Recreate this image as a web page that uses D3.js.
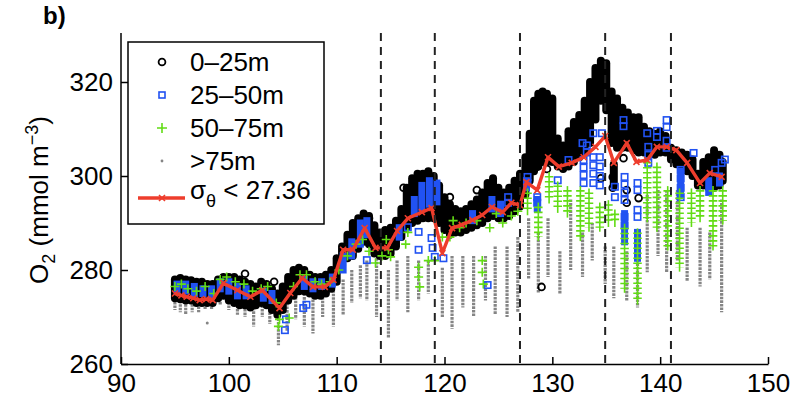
<!DOCTYPE html>
<html>
<head>
<meta charset="utf-8">
<script src="https://cdn.jsdelivr.net/npm/d3@7"></script>
<style>
  body { margin: 0; background: #fff; }
  svg { display: block; font-family: "Liberation Sans", Arial, sans-serif; }
</style>
</head>
<body>
<svg id="chart" width="800" height="399"></svg>
<script>
// axis ticks and section boundaries
const xTicks = [90, 100, 110, 120, 130, 140, 150];
const yTicks = [260, 280, 300, 320];
const dashedX = [114.1, 119.1, 127.0, 134.9, 141.0];
const seriesNames = ["0–25m", "25–50m", "50–75m", ">75m"];

// 0-25m : profiles as [x, top, bottom] plus single circles
const blackCols = [
  [95.0,278.0,274.0],[95.5,278.3,273.8],[96.0,278.0,273.5],[96.5,277.8,273.5],[97.0,277.5,273.0],
  [97.5,277.5,273.0],[98.0,277.0,273.0],[98.5,277.0,273.0],[99.0,278.0,274.0],[99.5,278.5,274.5],
  [100.0,278.5,273.5],[100.5,278.5,273.0],[101.0,278.0,272.5],[101.5,277.5,272.5],[102.0,277.0,272.0],
  [102.5,276.5,272.5],[103.0,277.5,273.0],[103.5,277.0,272.5],[104.0,276.0,271.5],[104.5,275.0,270.5],
  [105.0,276.5,271.5],[105.5,278.5,273.5],[106.0,280.0,274.5],[106.5,280.5,275.5],[107.0,280.0,275.5],
  [107.5,279.0,275.0],[108.0,278.5,274.5],[108.5,278.5,274.5],[109.0,279.0,275.0],[109.5,280.0,276.0],
  [110.0,282.5,277.5],[110.5,285.0,281.0],[111.0,287.5,282.5],[111.5,290.0,283.0],[112.0,291.0,284.5],
  [112.5,292.0,286.0],[113.0,291.5,285.5],[113.5,289.5,283.5],[114.0,288.0,283.0],[114.5,288.5,283.0],
  [115.0,289.0,283.5],[115.5,290.5,285.0],[116.0,293.0,287.0],[116.5,297.5,289.0],[117.0,299.5,290.0],
  [117.5,300.5,290.5],[118.0,300.5,291.0],[118.5,301.0,291.0],[119.0,300.0,291.0],[119.5,298.0,290.0],
  [120.0,295.5,288.5],[120.5,294.0,287.5],[121.0,293.0,288.0],[121.5,292.5,288.0],[122.0,293.0,288.5],
  [122.5,294.0,289.0],[123.0,295.0,289.5],[123.5,296.5,290.0],[124.0,298.5,291.0],[124.5,299.5,291.5],
  [125.0,297.5,291.0],[125.5,296.5,291.0],[126.0,297.5,291.5],[126.5,299.0,292.5],[127.0,300.5,293.5],
  [127.5,304.0,296.0],[127.9,309.0,299.0],[128.3,316.0,301.0],[128.7,317.5,302.0],[129.1,318.0,303.0],
  [129.5,317.5,303.0],[130.0,316.5,303.0],[130.5,308.0,302.0],[131.0,306.5,301.5],[131.5,309.5,302.0],
  [132.0,311.5,303.0],[132.5,313.0,304.0],[133.0,316.0,305.0],[133.5,320.0,307.0],[134.0,323.0,312.0],
  [134.5,324.5,316.0],[135.0,324.0,314.0],[135.5,318.0,307.0],[136.0,316.5,306.0],[136.5,314.5,306.0],
  [137.0,313.5,306.0],[137.5,312.5,305.5],[138.0,312.5,305.0],[138.5,310.5,305.0],[139.0,309.5,304.5],
  [139.5,309.0,304.5],[140.0,309.5,305.0],[140.5,308.5,305.0],[141.0,306.0,303.5],[141.5,305.5,302.5],
  [142.0,305.0,302.0],[142.5,304.5,301.0],[143.0,303.5,300.0],[143.5,300.5,298.0],[144.0,303.0,298.0],
  [144.5,304.0,297.5],[145.0,305.5,297.5],[145.5,304.5,298.0],[145.8,303.0,299.0],[135.7,302.5,298.0]
];
const blackPts = [
  [129.0,276.4],[135.6,299.8],[135.6,297.5],[136.6,303.8],[136.9,297.0],[136.9,294.3],[138.0,295.3],
  [128.4,304.5],[128.6,302.0],[129.5,301.5],[101.5,279.2],[104.2,277.5],[120.5,295.5],[123.0,297.0],
  [116.2,297.5],[113.0,291.0],[134.5,299.5]
];

// 25-50m
const blueCols = [
  [95.2,277.0,275.5],[96.0,277.0,275.5],[96.8,276.5,275.0],[97.6,276.0,275.0],[98.4,276.0,274.5],
  [99.2,277.5,276.0],[100.0,277.5,275.5],[100.8,276.5,274.5],[101.6,276.0,274.5],[103.2,275.5,274.0],
  [104.0,275.0,273.5],[107.0,278.0,276.5],[107.8,277.5,276.0],[108.6,277.5,276.5],[109.6,278.5,277.0],
  [110.6,283.0,280.0],[111.4,286.0,283.0],[112.2,290.0,285.5],[112.8,290.5,287.5],[115.8,289.0,287.0],
  [117.2,295.0,292.0],[117.9,298.0,293.0],[118.6,299.0,294.0],[119.3,298.5,294.5],
  [122.6,292.0,290.5],[124.4,295.0,293.0],[125.2,294.0,292.0],[127.6,299.0,297.5],[128.6,295.0,293.0],
  [136.7,292.0,286.0],[137.9,288.0,282.5],[141.9,301.0,296.0],
  [144.5,299.0,296.5],[145.5,300.0,298.5]
];
const bluePts = [
  [105.2,267.2],[105.3,269.5],[106.9,271.9],[107.2,272.6],[116.6,289.1],[117.6,288.1],[117.6,284.3],
  [118.8,286.8],[118.9,284.7],[119.1,282.8],[119.9,282.5],[124.0,276.8],[125.9,295.5],[125.9,294.3],
  [112.8,282.1],[127.7,299.8],[127.7,298.5],[128.6,295.5],[128.6,294.3],[130.5,299.1],[131.5,303.4],
  [132.8,307.0],[132.9,303.4],[132.9,301.8],[132.9,300.2],[132.9,298.5],[133.8,309.1],[133.8,304.0],
  [133.8,302.3],[133.8,300.5],[133.8,298.5],[134.4,304.0],[134.4,302.0],[134.4,300.0],[134.4,298.0],
  [134.6,309.1],[135.8,297.7],[135.8,295.5],[136.6,311.9],[136.6,310.6],[136.7,299.8],[136.7,298.2],
  [136.7,296.5],[136.7,294.9],[136.7,291.3],[136.7,289.5],[137.9,298.5],[137.9,297.0],[137.9,292.8],
  [137.9,291.3],[138.8,309.1],[138.9,306.2],[138.9,304.5],[138.9,302.8],[139.7,308.3],[139.7,309.6],
  [140.6,311.9],[140.6,310.4],[140.6,307.5],[140.6,306.0],[141.9,301.3],[141.9,299.5],[141.9,297.5],
  [141.9,295.5],[143.1,304.9],[145.1,301.3],[145.7,302.8],[146.0,303.5],[133.2,306.5],[133.2,305.0]
];

// 50-75m
const greenCols = [
  [127.7,296.5,292.5],[128.7,293.5,287.0],[129.7,300.0,295.0],[130.5,298.0,293.0],[131.4,297.0,292.0],
  [132.6,297.0,287.0],[133.4,296.5,289.0],[134.4,293.5,289.0],[135.2,294.0,290.0],[135.8,292.0,290.0],
  [136.7,289.0,276.0],[137.9,288.0,273.5],[138.8,303.0,291.0],[139.7,302.0,289.0],[140.7,297.0,285.0],
  [141.8,296.5,280.5],[142.9,296.5,290.0],[143.7,297.0,291.0],[144.9,297.0,285.0],[145.8,297.0,290.5]
];
const greenPts = [
  [95.0,276.5],[95.6,277.0],[96.2,276.0],[97.0,275.5],[97.8,276.5],[98.6,275.0],[99.2,278.0],
  [99.8,278.5],[100.6,277.5],[101.4,277.0],[102.2,275.5],[103.0,276.0],[103.6,276.5],[104.4,273.0],
  [104.7,269.5],[104.6,268.0],[105.6,269.8],[106.0,276.5],[106.6,279.0],[107.2,279.0],[108.0,277.5],
  [108.6,277.0],[109.4,277.5],[110.2,280.0],[111.0,283.0],[111.8,285.5],[112.4,286.5],[113.0,284.0],
  [113.6,281.5],[114.2,283.0],[114.6,286.5],[114.8,284.3],[115.0,282.8],[116.4,285.5],[116.6,288.0],
  [117.6,280.6],[117.6,278.5],[117.7,276.4],[118.5,282.0],[119.1,282.0],[119.8,287.0],[120.5,287.0],
  [120.8,290.5],[121.4,289.0],[122.0,290.0],[123.0,290.5],[123.5,282.0],[123.5,279.5],[123.6,277.0],
  [124.2,289.0],[124.8,292.0],[125.4,290.0],[126.2,291.5],[126.8,292.5]
];

// >75m
const grayCols = [
  [95.0,274.0,271.5],[95.5,273.5,271.0],[96.0,273.5,270.5],[96.6,273.5,271.0],[97.2,273.0,271.0],
  [97.8,273.0,271.5],[98.4,273.0,271.5],[99.2,274.0,272.5],[100.0,274.0,271.5],[100.8,274.0,270.5],
  [101.5,274.0,270.0],[102.3,273.5,268.0],[103.1,274.0,270.0],[103.8,272.5,268.5],[104.6,272.0,264.0],
  [105.4,273.0,267.0],[106.2,275.0,269.5],[107.0,275.0,268.0],[107.8,276.0,266.5],[108.7,275.0,270.0],
  [109.7,276.5,268.0],[110.6,278.0,270.5],[111.4,280.0,273.0],[112.2,281.0,274.0],[112.8,282.0,273.5],
  [113.7,282.5,270.0],[114.8,280.0,265.5],[115.6,282.0,273.5],[116.6,283.0,271.0],[117.6,282.0,273.5],
  [118.5,282.0,275.0],[119.8,280.5,270.0],[120.7,283.0,267.5],[121.7,283.0,272.0],[122.7,283.0,270.0],
  [123.8,283.0,273.5],[124.7,285.0,270.5],[125.8,285.0,270.0],[126.8,287.0,271.0],[127.8,291.0,278.0],
  [128.7,288.0,275.0],[129.6,291.0,278.5],[130.7,284.0,275.0],[131.7,295.0,280.0],[132.8,288.0,278.5],
  [133.7,290.0,282.0],[134.9,285.0,277.0],[135.7,285.0,274.0],[136.9,284.0,273.5],[137.9,286.0,272.0],
  [138.8,296.0,279.5],[139.8,297.0,283.0],[140.6,297.0,279.5],[141.6,297.0,282.0],[142.5,289.0,277.5],
  [143.7,289.0,276.5],[144.6,288.0,278.0],[145.7,295.0,271.0]
];
const grayPts = [[98.0,268.7]];

// sigma_theta < 27.36 mean
const redLine = [
  [95.0,275.0],[95.6,274.6],[96.1,274.3],[96.7,274.0],[97.3,273.6],[97.9,273.8],[98.5,273.6],
  [99.5,277.2],[100.8,275.7],[102.0,274.3],[103.1,275.7],[104.7,271.9],[105.7,275.1],[106.8,278.3],
  [107.8,276.4],[108.9,276.4],[109.7,277.9],[110.6,284.3],[111.5,284.3],[112.6,288.9],[113.6,284.7],
  [114.7,284.7],[115.6,288.3],[116.6,291.0],[117.9,292.3],[118.8,293.2],[119.8,283.6],[120.7,288.9],
  [121.6,289.6],[122.6,290.6],[123.5,291.7],[124.4,293.4],[125.4,292.3],[126.2,294.3],[127.0,293.8],
  [127.6,298.7],[128.6,297.0],[129.6,304.0],[130.6,302.0],[131.8,302.8],[132.9,304.0],[134.0,306.2],
  [134.9,308.5],[135.7,302.8],[136.9,307.0],[137.8,303.0],[138.8,303.4],[139.7,306.2],[140.6,306.2],
  [141.5,305.5],[142.5,302.8],[143.7,298.5],[144.6,300.6],[145.7,299.8]
];

const BLUE = "#2152f2", GREEN = "#62dc14", GRAY = "#858585", RED = "#ee3d2c";

const svg = d3.select("#chart");
const x = d3.scaleLinear().domain([90, 150]).range([121, 768]);
const y = d3.scaleLinear().domain([260, 330]).range([364, 35]);

const plot = svg.append("g");

// >75m
plot.append("g").selectAll("line").data(grayCols).join("line")
  .attr("x1", d => x(d[0])).attr("x2", d => x(d[0]))
  .attr("y1", d => y(d[1])).attr("y2", d => y(d[2]))
  .attr("stroke", GRAY).attr("stroke-width", 3.2).attr("stroke-dasharray", "2.6,1");
plot.append("g").selectAll("circle").data(grayPts).join("circle")
  .attr("cx", d => x(d[0])).attr("cy", d => y(d[1])).attr("r", 1.5).attr("fill", GRAY);

// 0-25m
plot.append("g").selectAll("line").data(blackCols).join("line")
  .attr("x1", d => x(d[0])).attr("x2", d => x(d[0]))
  .attr("y1", d => y(d[1])).attr("y2", d => y(d[2]))
  .attr("stroke", "#000").attr("stroke-width", 8).attr("stroke-linecap", "round");
plot.append("g").selectAll("circle").data(blackPts).join("circle")
  .attr("cx", d => x(d[0])).attr("cy", d => y(d[1])).attr("r", 3.4)
  .attr("fill", "none").attr("stroke", "#000").attr("stroke-width", 1.8);

// 25-50m
plot.append("g").selectAll("line").data(blueCols).join("line")
  .attr("x1", d => x(d[0])).attr("x2", d => x(d[0]))
  .attr("y1", d => y(d[1])).attr("y2", d => y(d[2]))
  .attr("stroke", BLUE).attr("stroke-width", 7).attr("stroke-linecap", "square");
plot.append("g").selectAll("rect").data(bluePts).join("rect")
  .attr("x", d => x(d[0]) - 3.2).attr("y", d => y(d[1]) - 3.2)
  .attr("width", 6.4).attr("height", 6.4)
  .attr("fill", "none").attr("stroke", BLUE).attr("stroke-width", 1.6);

// 50-75m
const gc = plot.append("g").selectAll("g").data(greenCols).join("g");
gc.append("line")
  .attr("x1", d => x(d[0])).attr("x2", d => x(d[0]))
  .attr("y1", d => y(d[1]) - 4).attr("y2", d => y(d[2]) + 4)
  .attr("stroke", GREEN).attr("stroke-width", 1.6);
gc.append("line")
  .attr("x1", d => x(d[0])).attr("x2", d => x(d[0]))
  .attr("y1", d => y(d[1])).attr("y2", d => y(d[2]))
  .attr("stroke", GREEN).attr("stroke-width", 8.5).attr("stroke-dasharray", "1.6,3.4");
plot.append("g").selectAll("path").data(greenPts).join("path")
  .attr("d", d => `M${x(d[0]) - 4.5},${y(d[1])}h9M${x(d[0])},${y(d[1]) - 4.5}v9`)
  .attr("stroke", GREEN).attr("stroke-width", 1.6).attr("fill", "none");

// mean line
plot.append("path").datum(redLine)
  .attr("d", d3.line().x(d => x(d[0])).y(d => y(d[1])))
  .attr("fill", "none").attr("stroke", RED).attr("stroke-width", 3.4).attr("stroke-linejoin", "round");
plot.append("g").selectAll("path").data(redLine).join("path")
  .attr("d", d => `M${x(d[0]) - 3},${y(d[1]) - 3}l6,6M${x(d[0]) - 3},${y(d[1]) + 3}l6,-6`)
  .attr("stroke", RED).attr("stroke-width", 1.6);

// dashed section lines
svg.append("g").selectAll("line").data(dashedX).join("line")
  .attr("x1", d => x(d)).attr("x2", d => x(d))
  .attr("y1", y.range()[1] - 2).attr("y2", y.range()[0])
  .attr("stroke", "#222").attr("stroke-width", 2).attr("stroke-dasharray", "8,6");

// axes
const fs = 26;
const gx = svg.append("g").attr("transform", `translate(0,${y.range()[0]})`)
  .call(d3.axisBottom(x).tickValues(xTicks).tickSize(-7).tickSizeOuter(0).tickPadding(10));
const gy = svg.append("g").attr("transform", `translate(${x.range()[0]},0)`)
  .call(d3.axisLeft(y).tickValues(yTicks).tickSize(-7).tickSizeOuter(0).tickPadding(8));
[gx, gy].forEach(g => {
  g.attr("font-size", fs).attr("font-family", null);
  g.selectAll("path, line").attr("stroke", "#000").attr("stroke-width", 1.5);
  g.selectAll("text").attr("fill", "#000");
});
gy.select(".domain").attr("d", `M0,${y.range()[0]}V${y.range()[1] - 2}`);

// y label
const yl = svg.append("text")
  .attr("transform", "translate(48,200) rotate(-90)")
  .attr("text-anchor", "middle").attr("font-size", fs);
yl.append("tspan").text("O");
yl.append("tspan").attr("font-size", 18).attr("dy", 7).text("2");
yl.append("tspan").attr("dy", -7).text(" (mmol m");
yl.append("tspan").attr("font-size", 18).attr("dy", -10).text("−3");
yl.append("tspan").attr("dy", 10).text(")");

// panel tag
svg.append("text").attr("x", 43).attr("y", 24).attr("font-size", 24).attr("font-weight", "bold").text("b)");

// legend
const lg = svg.append("g");
lg.append("rect").attr("x", 128).attr("y", 42).attr("width", 196).attr("height", 182)
  .attr("fill", "#fff").attr("stroke", "#000").attr("stroke-width", 1.5);
const rowY = [62, 95, 128, 161];
const mx = 162;
lg.append("circle").attr("cx", mx).attr("cy", rowY[0]).attr("r", 3.4)
  .attr("fill", "none").attr("stroke", "#000").attr("stroke-width", 1.8);
lg.append("rect").attr("x", mx - 3).attr("y", rowY[1] - 3).attr("width", 6).attr("height", 6)
  .attr("fill", "none").attr("stroke", BLUE).attr("stroke-width", 1.6);
lg.append("path").attr("d", `M${mx - 5},${rowY[2]}h10M${mx},${rowY[2] - 5}v10`)
  .attr("stroke", GREEN).attr("stroke-width", 1.6);
lg.append("circle").attr("cx", mx).attr("cy", rowY[3]).attr("r", 1.4).attr("fill", GRAY);
lg.selectAll("text.s").data(seriesNames).join("text").attr("class", "s")
  .attr("x", 190).attr("y", (d, i) => rowY[i] + 9).attr("font-size", fs).text(d => d);
lg.append("line").attr("x1", 138).attr("x2", 185).attr("y1", 198).attr("y2", 198)
  .attr("stroke", RED).attr("stroke-width", 3.4);
lg.append("path").attr("d", `M${mx - 3},195l6,6M${mx - 3},201l6,-6`)
  .attr("stroke", RED).attr("stroke-width", 1.6);
const st = lg.append("text").attr("x", 190).attr("y", 199).attr("font-size", fs);
st.append("tspan").text("σ");
st.append("tspan").attr("font-size", 18).attr("dy", 8).text("θ");
st.append("tspan").attr("dy", -8).text(" < 27.36");
</script>
</body>
</html>
